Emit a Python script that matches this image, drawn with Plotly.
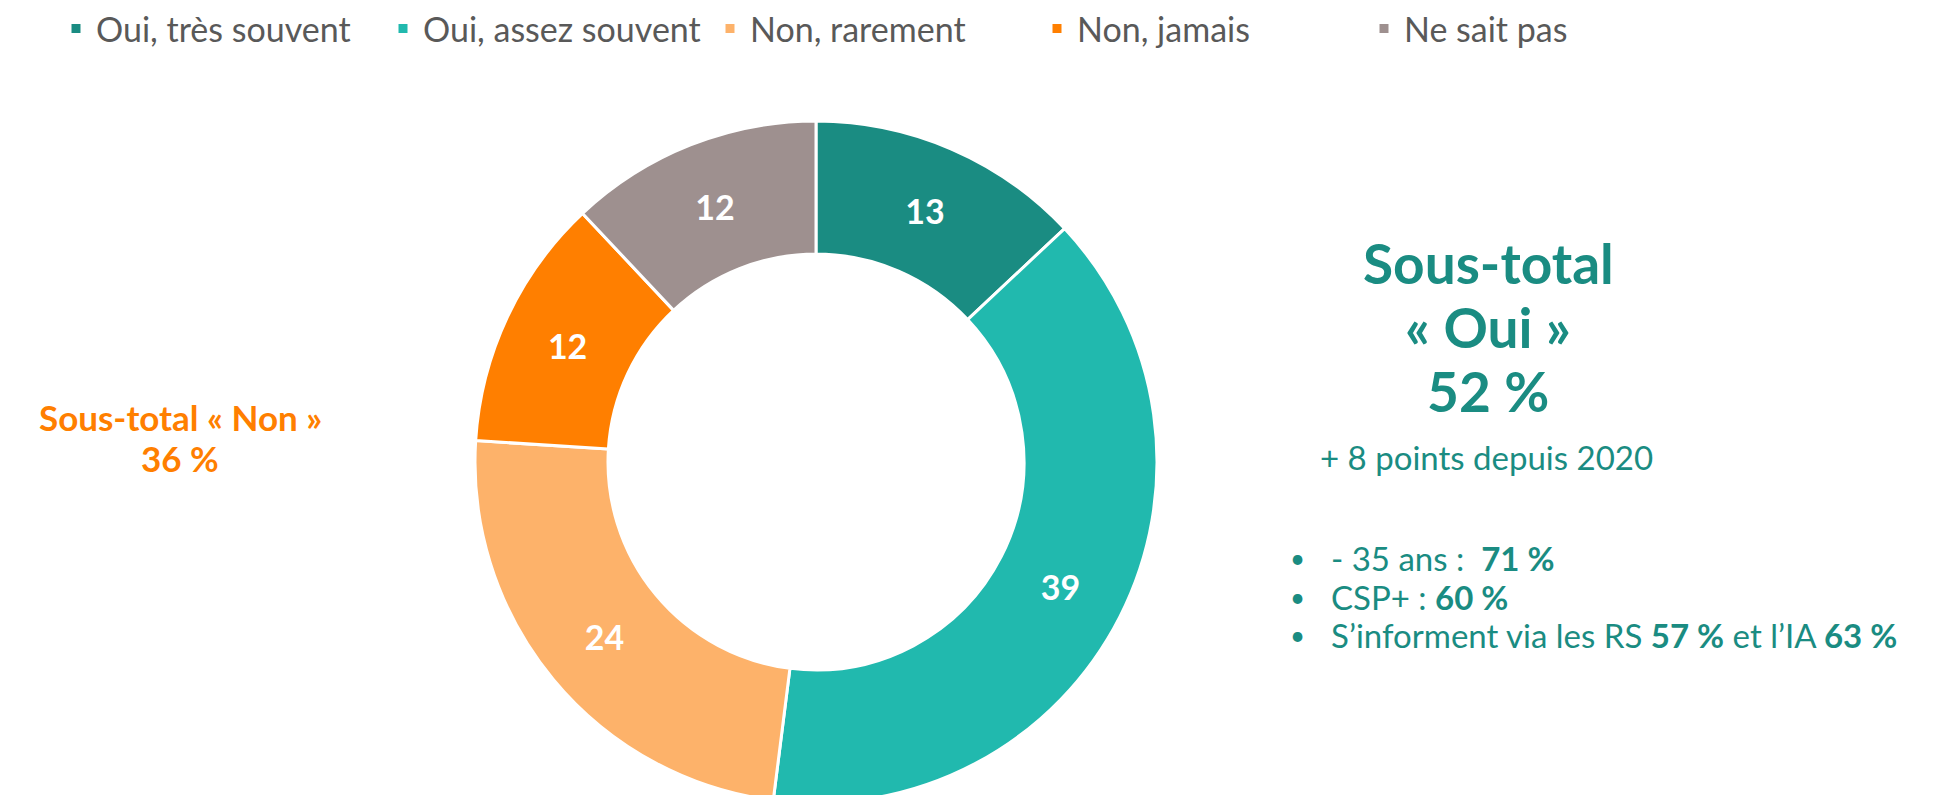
import plotly.graph_objects as go

W, H = 1956, 795

categories = ["Oui, très souvent", "Oui, assez souvent", "Non, rarement", "Non, jamais", "Ne sait pas"]
values = [13, 39, 24, 12, 12]
colors = ["#1A8C82", "#21B9AE", "#FDB26A", "#FF7F00", "#9E908F"]

oui_title = ["Sous-total", "« Oui »", "52 %"]
oui_sub = "+ 8 points depuis 2020"
oui_bullets = [
    "- 35 ans :  <b>71 %</b>",
    "CSP+ : <b>60 %</b>",
    "S’informent via les RS <b>57 %</b> et l’IA <b>63 %</b>",
]
non_title = ["Sous-total « Non »", "36 %"]

TEAL = "#1A8C82"
ORANGE = "#FF7F00"
FONT = "Lato"

def px(x):
    return x / W

def py(y):
    return 1 - y / H

cx, R = 808, 341
top = H - 2 * R

fig = go.Figure(go.Pie(
    labels=categories,
    values=values,
    marker=dict(colors=colors, line=dict(color="white", width=3)),
    hole=0.61,
    sort=False,
    direction="clockwise",
    rotation=0,
    textinfo="value",
    textposition="inside",
    insidetextorientation="horizontal",
    textfont=dict(family=FONT, size=34, color="white", weight="bold"),
    domain=dict(x=[px(cx - R), px(cx + R)], y=[0, py(top)]),
    hoverinfo="label+value",
))

ann = []
for i, line in enumerate(oui_title):
    ann.append(dict(x=px(1480), y=py(255 + 64 * i), text=f"<b>{line}</b>",
                    font=dict(family=FONT, size=55, color=TEAL),
                    xanchor="center", yanchor="middle", showarrow=False))
ann.append(dict(x=px(1310), y=py(449), text=oui_sub,
                font=dict(family=FONT, size=33, color=TEAL),
                xanchor="left", yanchor="middle", showarrow=False))
for i, line in enumerate(oui_bullets):
    ann.append(dict(x=px(1280), y=py(550 + 38.7 * i), text="•",
                    font=dict(family=FONT, size=26, color=TEAL),
                    xanchor="left", yanchor="middle", showarrow=False))
    ann.append(dict(x=px(1321), y=py(550 + 38.7 * i), text=line,
                    font=dict(family=FONT, size=33, color=TEAL),
                    xanchor="left", yanchor="middle", showarrow=False))
for i, line in enumerate(non_title):
    ann.append(dict(x=px(172), y=py(409 + 41 * i), text=f"<b>{line}</b>",
                    font=dict(family=FONT, size=35, color=ORANGE),
                    xanchor="center", yanchor="middle", showarrow=False))

fig.update_layout(
    width=W, height=H,
    margin=dict(l=0, r=0, t=0, b=0, autoexpand=False),
    paper_bgcolor="white", plot_bgcolor="white",
    showlegend=True,
    legend=dict(orientation="h", xref="container", yref="container",
                x=px(48), y=py(21), xanchor="left", yanchor="middle",
                font=dict(family=FONT, size=34, color="#595959"),
                itemwidth=30, traceorder="normal",
                entrywidthmode="pixels", entrywidth=282),
    annotations=ann,
)

fig.write_html("out.html")
